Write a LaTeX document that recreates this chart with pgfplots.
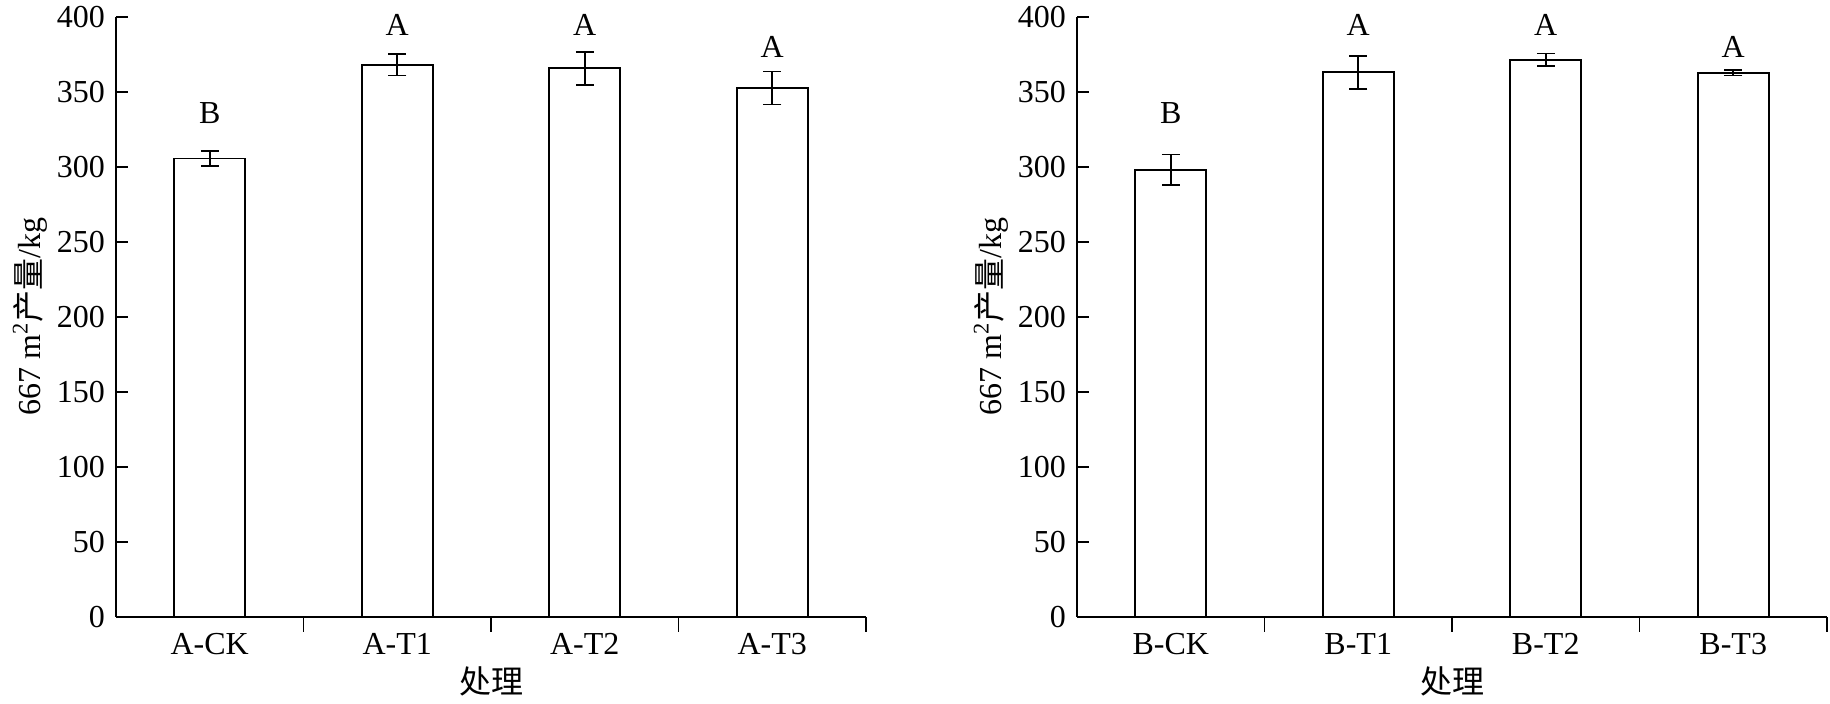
\documentclass[border=0pt]{standalone}
\usepackage{pgfplots}
\pgfplotsset{compat=1.18}
\usepackage{fontspec}
\setmainfont{Liberation Serif}
\newfontfamily\cjk{Noto Sans CJK SC}
\begin{document}
\fontsize{16pt}{19pt}\selectfont
\begin{tikzpicture}
\useasboundingbox (0,0) rectangle (915pt,352pt);
\pgfplotsset{
  mybar/.style={
    at={(#1,43.65pt)}, anchor=south west,
    scale only axis, width=375pt, height=300pt,
    xmin=0, xmax=4, ymin=0, ymax=400,
    axis x line*=bottom, axis y line*=left,
    axis line style={line width=0.85pt},
    every tick/.style={black, line width=0.85pt},
    tick align=inside,
    xtick={0.5,1.5,2.5,3.5},
    major x tick style={draw=none},
    minor xtick={1,2,3,4},
    minor tick length=7.5pt,
    major tick length=6pt,
    ytick={0,50,...,400},
    /pgf/number format/assume math mode=true,
    tick label style={font=\fontsize{16pt}{19pt}\selectfont},
    xticklabel style={yshift=3pt},
    xlabel={\cjk 处理},
    xlabel style={at={(axis description cs:0.5,-0.107)}, anchor=center, font=\fontsize{16pt}{19pt}\selectfont},
    ylabel={667 m\textsuperscript{2}{\cjk 产量}/kg},
    ylabel style={at={(axis description cs:-0.1147,0.5)}, anchor=center, font=\fontsize{16pt}{19pt}\selectfont},
    clip=false,
    ybar, bar width=35.5pt,
  },
  mybarplot/.style={
    fill=white, draw=black, line width=0.85pt,
    error bars/.cd, y dir=both, y explicit,
    error bar style={line width=0.85pt},
    error mark options={rotate=90, mark size=4.5pt, line width=0.85pt},
  },
}
\begin{axis}[mybar=58pt, xticklabels={A-CK,A-T1,A-T2,A-T3}]
\addplot[mybarplot] coordinates {
 (0.5,305.4) +- (0,5.0)
 (1.5,368.0) +- (0,7.3)
 (2.5,365.6) +- (0,11.0)
 (3.5,352.4) +- (0,11.0)
};
\node at (axis cs:0.5,335.6) {B};
\node at (axis cs:1.5,394.6) {A};
\node at (axis cs:2.5,394.6) {A};
\node at (axis cs:3.5,380.0) {A};
\end{axis}
\begin{axis}[mybar=538.5pt, xticklabels={B-CK,B-T1,B-T2,B-T3}]
\addplot[mybarplot] coordinates {
 (0.5,297.9) +- (0,10.2)
 (1.5,362.9) +- (0,11.0)
 (2.5,371.3) +- (0,4.2)
 (3.5,362.6) +- (0,1.8)
};
\node at (axis cs:0.5,335.6) {B};
\node at (axis cs:1.5,394.6) {A};
\node at (axis cs:2.5,394.6) {A};
\node at (axis cs:3.5,380.0) {A};
\end{axis}
\end{tikzpicture}
\end{document}
